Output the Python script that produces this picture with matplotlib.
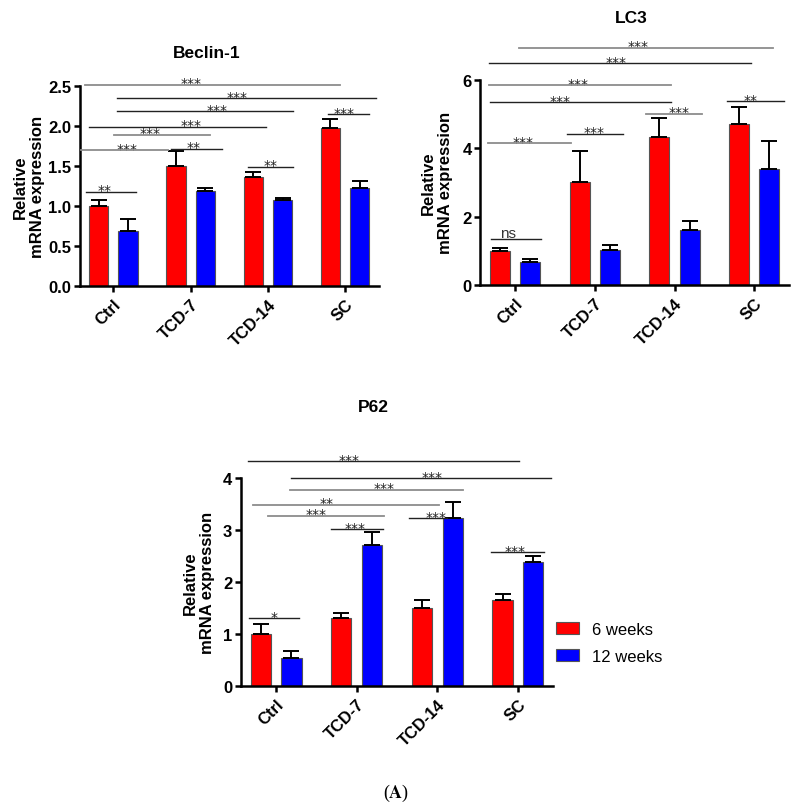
import matplotlib
matplotlib.use("Agg")
import matplotlib.pyplot as plt
import numpy as np
from matplotlib.patches import Patch

plt.rcParams["font.family"] = ["Liberation Sans", "DejaVu Sans"]
plt.rcParams["mathtext.fontset"] = "stix"

# ---------------------------------------------------------------------------
# Data
# ---------------------------------------------------------------------------

groups = ["Ctrl", "TCD-7", "TCD-14", "SC"]
series_names = ["6 weeks", "12 weeks"]

beclin_6w = [1.00, 1.50, 1.36, 1.98]
beclin_6w_err = [0.08, 0.19, 0.07, 0.11]
beclin_12w = [0.69, 1.19, 1.07, 1.22]
beclin_12w_err = [0.14, 0.04, 0.03, 0.09]

lc3_6w = [0.98, 3.02, 4.32, 4.70]
lc3_6w_err = [0.09, 0.90, 0.57, 0.49]
lc3_12w = [0.67, 1.02, 1.61, 3.39]
lc3_12w_err = [0.08, 0.15, 0.25, 0.82]

p62_6w = [1.00, 1.30, 1.49, 1.66]
p62_6w_err = [0.19, 0.10, 0.17, 0.11]
p62_12w = [0.54, 2.71, 3.23, 2.39]
p62_12w_err = [0.12, 0.25, 0.31, 0.12]

beclin_ticks = [0.0, 0.5, 1.0, 1.5, 2.0, 2.5]
lc3_ticks = [0, 2, 4, 6]
p62_ticks = [0, 1, 2, 3, 4]

# significance bars: (x start, x end, y, label, label x, grey line?)
beclin_sig = [
    (-0.37, 2.93, 2.52, "***", 1.01, True),
    (0.05, 3.40, 2.35, "***", 1.60, False),
    (0.05, 2.33, 2.19, "***", 1.34, False),
    (-0.32, 1.97, 1.99, "***", 1.01, False),
    (0.01, 1.25, 1.89, "***", 0.48, True),
    (-0.42, 0.71, 1.70, "***", 0.17, True),
    (0.75, 1.41, 1.72, "**", 1.04, False),
    (-0.35, 0.29, 1.18, "**", -0.12, False),
    (1.74, 2.32, 1.49, "**", 2.03, False),
    (2.78, 3.31, 2.15, "***", 2.99, False),
]

lc3_sig = [
    (0.05, 3.24, 6.93, "***", 1.54, True),
    (-0.33, 2.96, 6.48, "***", 1.27, False),
    (-0.33, 1.96, 5.84, "***", 0.79, True),
    (-0.31, 1.95, 5.34, "***", 0.57, False),
    (1.64, 2.35, 5.00, "***", 2.06, True),
    (2.66, 3.37, 5.37, "**", 2.96, False),
    (0.65, 1.36, 4.42, "***", 0.99, False),
    (-0.34, 0.70, 4.15, "***", 0.10, True),
    (-0.30, 0.33, 1.34, "ns", -0.09, False),
]

p62_sig = [
    (-0.35, 3.01, 4.33, "***", 0.90, False),
    (0.19, 3.41, 4.00, "***", 1.93, False),
    (0.17, 2.32, 3.78, "***", 1.34, True),
    (-0.29, 2.02, 3.49, "**", 0.63, True),
    (-0.10, 1.34, 3.28, "***", 0.49, True),
    (0.68, 1.33, 3.02, "***", 0.98, False),
    (1.65, 2.12, 3.23, "***", 1.99, False),
    (2.67, 3.32, 2.57, "***", 2.97, False),
    (-0.34, 0.28, 1.30, "*", -0.02, False),
]

COLORS = ["#ff0000", "#0000ff"]
BAR_W = 0.25
OFFSET = 0.19


def draw_panel(ax, v6, e6, v12, e12, ticks, sig, label_x):
    x = np.arange(len(groups))
    for vals, errs, off, col in [(v6, e6, -OFFSET, COLORS[0]), (v12, e12, OFFSET, COLORS[1])]:
        ax.bar(x + off, vals, width=BAR_W, color=col, edgecolor="#555555", linewidth=0.8, zorder=2)
        ax.errorbar(x + off, vals, yerr=[np.zeros(len(errs)), errs], fmt="none",
                    ecolor="black", elinewidth=1.4, capsize=5.5, capthick=1.4, zorder=3)

    ax.set_xlim(-0.44, 3.44)
    ax.set_ylim(0, ticks[-1])
    ax.set_yticks(ticks)
    if isinstance(ticks[0], float):
        ax.set_yticklabels([f"{t:.1f}" for t in ticks])
    ax.set_xticks(x)
    ax.set_xticklabels(groups, rotation=45, ha="right", va="top", rotation_mode="anchor",
                       fontsize=12, fontweight="bold")
    for lab in ax.get_yticklabels():
        lab.set_fontweight("bold")
        lab.set_fontsize(12)

    for side in ["top", "right"]:
        ax.spines[side].set_visible(False)
    for side in ["left", "bottom"]:
        ax.spines[side].set_linewidth(1.8)
    ax.tick_params(axis="both", width=1.8, length=4.5)
    ax.tick_params(axis="y", pad=1.5)
    ax.tick_params(axis="x", pad=3)

    ax.set_ylabel("Relative\nmRNA expression", fontsize=12, fontweight="bold")
    ax.yaxis.set_label_coords(label_x, 0.5)

    for x0, x1, y, lab, tx, grey in sig:
        col = "#8c8c8c" if grey else "#222222"
        lw = 1.3 if grey else 1.0
        ax.plot([x0, x1], [y, y], color=col, linewidth=lw, clip_on=False, zorder=4)
        if lab == "ns":
            ax.annotate(lab, xy=(tx, y), xytext=(0, 1.5), textcoords="offset points",
                        ha="center", va="baseline", fontsize=11, color="#333333",
                        annotation_clip=False)
        else:
            ax.annotate(lab, xy=(tx, y), xytext=(0, -1.8), textcoords="offset points",
                        ha="center", va="baseline", fontsize=10, color="#222222",
                        family="DejaVu Sans", annotation_clip=False)


W, H = 799, 812
fig = plt.figure(figsize=(W / 100, H / 100), dpi=100)

def px_axes(left, right, top, bottom):
    return fig.add_axes([left / W, 1 - bottom / H, (right - left) / W, (bottom - top) / H])

ax1 = px_axes(79.5, 379.0, 87.3, 286.7)
ax2 = px_axes(480.0, 789.3, 80.7, 286.0)
ax3 = px_axes(240.7, 553.3, 479.3, 686.7)

draw_panel(ax1, beclin_6w, beclin_6w_err, beclin_12w, beclin_12w_err, beclin_ticks, beclin_sig, -0.115)
draw_panel(ax2, lc3_6w, lc3_6w_err, lc3_12w, lc3_12w_err, lc3_ticks, lc3_sig, -0.087)
draw_panel(ax3, p62_6w, p62_6w_err, p62_12w, p62_12w_err, p62_ticks, p62_sig, -0.082)

fig.text(206.5 / W, 1 - 53.3 / H, "Beclin-1", ha="center", va="center", fontsize=12.5, fontweight="bold")
fig.text(631.7 / W, 1 - 18.3 / H, "LC3", ha="center", va="center", fontsize=12.5, fontweight="bold")
fig.text(373.3 / W, 1 - 407.7 / H, "P62", ha="center", va="center", fontsize=12.5, fontweight="bold")

handles = [Patch(facecolor=c, edgecolor="#555555", linewidth=0.8) for c in COLORS]
fig.legend(handles, series_names, loc="upper left", bbox_to_anchor=(556 / W, 1 - 623 / H),
           frameon=False, fontsize=12, handlelength=1.4, handleheight=0.7,
           handletextpad=0.75, labelspacing=0.7, borderpad=0, borderaxespad=0)

fig.text(396 / W, 1 - 793 / H, r"($\mathbf{A}$)", ha="center", va="center", fontsize=13,
         family="Liberation Serif")

fig.savefig("out.png", dpi=100)
